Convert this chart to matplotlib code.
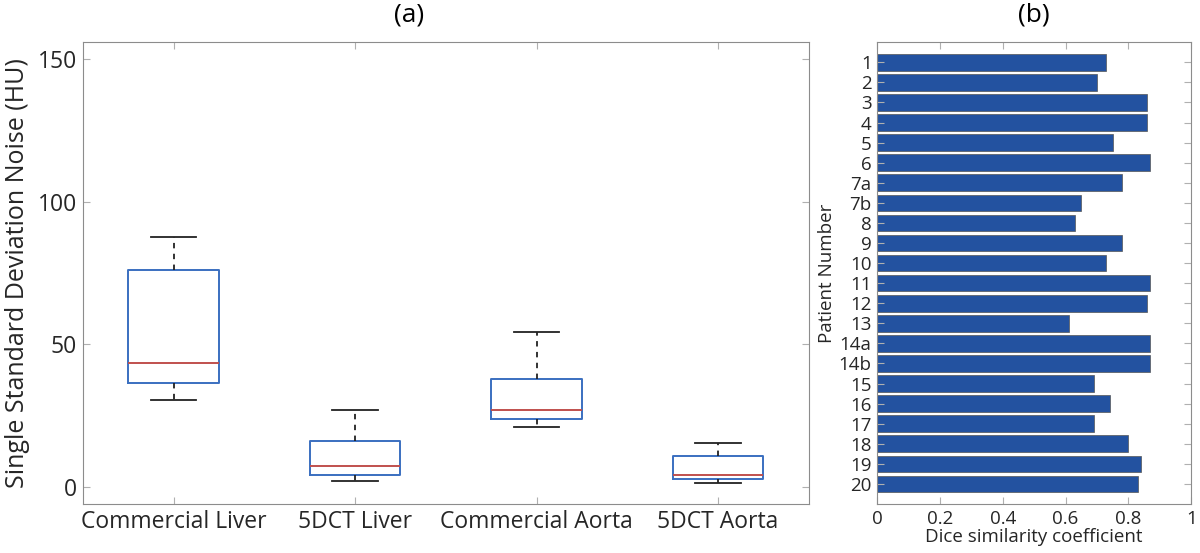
import matplotlib
matplotlib.use("Agg")
import matplotlib.pyplot as plt
import numpy as np

plt.rcParams['font.family'] = ['Open Sans', 'DejaVu Sans']

# (a) box statistics (HU)
groups = ['Commercial Liver', '5DCT Liver', 'Commercial Aorta', '5DCT Aorta']
whislo = [30.5, 2.1, 20.9, 1.5]
q1 = [36.6, 4.2, 23.9, 2.9]
med = [43.5, 7.5, 27.0, 4.3]
q3 = [76.1, 16.2, 37.8, 10.9]
whishi = [87.8, 27.0, 54.2, 15.4]

# (b) dice per patient
patients = ['1', '2', '3', '4', '5', '6', '7a', '7b', '8', '9', '10', '11', '12',
            '13', '14a', '14b', '15', '16', '17', '18', '19', '20']
dice = [0.73, 0.70, 0.86, 0.86, 0.75, 0.87, 0.78, 0.65, 0.63, 0.78, 0.73, 0.87,
        0.86, 0.61, 0.87, 0.87, 0.69, 0.74, 0.69, 0.80, 0.84, 0.83]

spine_col = '#8c8c8c'
txt_col = '#262626'

fig = plt.figure(figsize=(12, 5.53), dpi=100)
ax1 = fig.add_axes([0.069, 0.0886, 0.605, 0.835])
ax2 = fig.add_axes([0.731, 0.0886, 0.2617, 0.835])

stats = []
for i in range(len(groups)):
    stats.append(dict(whislo=whislo[i], q1=q1[i], med=med[i], q3=q3[i],
                      whishi=whishi[i], fliers=[], label=groups[i]))
ax1.bxp(stats, positions=np.arange(1, 5), widths=0.5, showfliers=False,
        boxprops=dict(color='#3a6fc0', linewidth=1.4),
        medianprops=dict(color='#c0504d', linewidth=1.4),
        whiskerprops=dict(color='#222222', linestyle=(0, (3, 3)), linewidth=1.3),
        capprops=dict(color='#222222', linewidth=1.3),
        capwidths=0.25)
ax1.set_xlim(0.5, 4.5)
ax1.set_ylim(-6, 156)
ax1.set_yticks([0, 50, 100, 150])
ax1.set_ylabel('Single Standard Deviation Noise (HU)', fontsize=18, color=txt_col,
               labelpad=6)
ax1.text(0.449, 1.06, '(a)', transform=ax1.transAxes, ha='center', va='center',
         fontsize=19, color='black')
ax1.tick_params(labelsize=16.5, colors=txt_col)

ax2.barh(np.arange(1, len(patients) + 1), dice, height=0.83,
         color='#2352a0', edgecolor='#555555', linewidth=0.5)
ax2.set_xlim(0, 1)
ax2.set_ylim(23, 0)
ax2.set_yticks(np.arange(1, len(patients) + 1))
ax2.set_yticklabels(patients)
ax2.set_xticks([0, 0.2, 0.4, 0.6, 0.8, 1])
ax2.set_xticklabels(['0', '0.2', '0.4', '0.6', '0.8', '1'])
ax2.set_xlabel('Dice similarity coefficient', fontsize=13.5, color=txt_col, labelpad=0)
ax2.set_ylabel('Patient Number', fontsize=13.5, color=txt_col, labelpad=2)
ax2.text(0.5, 1.06, '(b)', transform=ax2.transAxes, ha='center', va='center',
         fontsize=19, color='black')
ax2.tick_params(labelsize=13.5, colors=txt_col)

for ax in (ax1, ax2):
    for s in ax.spines.values():
        s.set_color(spine_col)
    ax.tick_params(direction='in', top=True, right=True, color='#b0b0b0',
                   length=5, pad=4)

fig.savefig('out.png', dpi=100)
